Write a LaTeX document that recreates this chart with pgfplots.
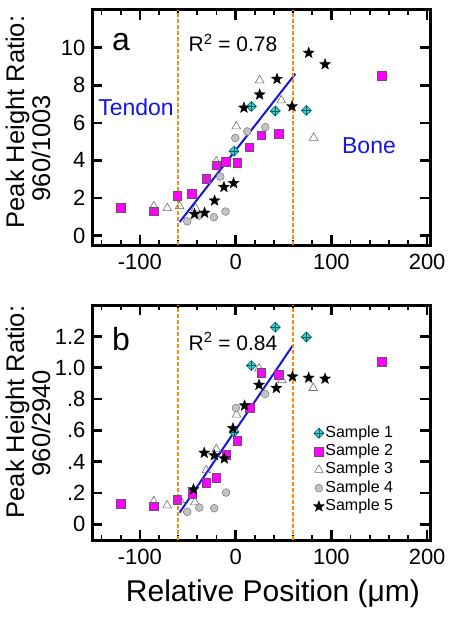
\documentclass[border=0pt]{standalone}
\usepackage{fontspec}
\setmainfont{Liberation Sans}
\usepackage{pgfplots}
\pgfplotsset{compat=1.18}
\usetikzlibrary{plotmarks}

\definecolor{cyanM}{RGB}{64,208,208}
\definecolor{cyanE}{RGB}{0,95,100}
\definecolor{magM}{RGB}{255,0,255}
\definecolor{magE}{RGB}{120,70,120}
\definecolor{grayM}{RGB}{195,195,195}
\definecolor{grayE}{RGB}{120,120,120}
\definecolor{triE}{RGB}{110,110,110}
\definecolor{orangeL}{RGB}{245,140,20}
\definecolor{blueL}{RGB}{20,20,230}

\pgfdeclareplotmark{diamplus}{%
  \pgfpathmoveto{\pgfqpoint{0pt}{\pgfplotmarksize}}%
  \pgfpathlineto{\pgfqpoint{\pgfplotmarksize}{0pt}}%
  \pgfpathlineto{\pgfqpoint{0pt}{-\pgfplotmarksize}}%
  \pgfpathlineto{\pgfqpoint{-\pgfplotmarksize}{0pt}}%
  \pgfpathclose\pgfusepathqfillstroke
  \pgfpathmoveto{\pgfqpoint{0pt}{\pgfplotmarksize}}%
  \pgfpathlineto{\pgfqpoint{0pt}{-\pgfplotmarksize}}%
  \pgfpathmoveto{\pgfqpoint{\pgfplotmarksize}{0pt}}%
  \pgfpathlineto{\pgfqpoint{-\pgfplotmarksize}{0pt}}%
  \pgfusepathqstroke}

\pgfdeclareplotmark{fstar}{%
  \pgfpathmoveto{\pgfpointpolar{90}{\pgfplotmarksize}}%
  \pgfpathlineto{\pgfpointpolar{126}{0.42*\pgfplotmarksize}}%
  \pgfpathlineto{\pgfpointpolar{162}{\pgfplotmarksize}}%
  \pgfpathlineto{\pgfpointpolar{198}{0.42*\pgfplotmarksize}}%
  \pgfpathlineto{\pgfpointpolar{234}{\pgfplotmarksize}}%
  \pgfpathlineto{\pgfpointpolar{270}{0.42*\pgfplotmarksize}}%
  \pgfpathlineto{\pgfpointpolar{306}{\pgfplotmarksize}}%
  \pgfpathlineto{\pgfpointpolar{342}{0.42*\pgfplotmarksize}}%
  \pgfpathlineto{\pgfpointpolar{18}{\pgfplotmarksize}}%
  \pgfpathlineto{\pgfpointpolar{54}{0.42*\pgfplotmarksize}}%
  \pgfpathclose\pgfusepathqfillstroke}

\pgfplotsset{
  myaxis/.style={
    scale only axis, width=338pt, height=235pt,
    xmin=-150, xmax=203,
    axis line style={line width=3pt},
    every major tick/.style={line width=2.6pt, black},
    every minor tick/.style={line width=1.8pt, black},
    tick align=inside,
    major tick length=10pt, minor tick length=5pt,
    xtick={-100,0,100,200}, xticklabels={-100,0,100,200},
    minor xtick={-140,-120,-80,-60,-40,-20,20,40,60,80,120,140,160,180},
    xtick pos=both, ytick pos=both,
    xticklabel pos=left, yticklabel pos=left,
    tick label style={font=\fontsize{22}{24}\selectfont},
    xticklabel style={yshift=-5.5pt},
    yticklabel style={xshift=-3pt},
    /pgf/number format/assume math mode=true,
    clip=false,
  },
  s1/.style={only marks, mark=diamplus, mark size=5pt, mark options={fill=cyanM, draw=cyanE, line width=0.6pt}},
  s2/.style={only marks, mark=square*, mark size=4.3pt, mark options={fill=magM, draw=magE, line width=0.5pt}},
  s3/.style={only marks, mark=triangle, mark size=5pt, mark options={draw=triE, fill=white, line width=0.6pt}},
  s4/.style={only marks, mark=*, mark size=3.9pt, mark options={fill=grayM, draw=grayE, line width=0.5pt}},
  s5/.style={only marks, mark=fstar, mark size=5.8pt, mark options={fill=black, draw=black, line width=0.3pt}},
  fitl/.style={blueL, line width=2pt, no marks},
  vdash/.style={orangeL, line width=1.4pt, dash pattern=on 4pt off 2pt, no marks},
}

\begin{document}
\begin{tikzpicture}
\useasboundingbox (0,0) rectangle (449pt,-621pt);

% ---------------- panel a ----------------
\begin{axis}[myaxis, at={(92pt,-245pt)}, anchor=south west,
  ymin=-0.5, ymax=12, ytick={0,2,4,6,8,10}, yticklabels={0,2,4,6,8,10}]
\addplot[s1] coordinates {(16.4,6.87) (41.5,6.63) (73.9,6.66) (-1.7,4.49)};
\addplot[s2] coordinates {(-120.2,1.47) (-85.4,1.30) (-61,2.13) (-45.7,2.22) (-30.7,3.02) (-20.2,3.75) (-10.5,3.94) (1.7,3.89) (14.3,4.71) (26.8,5.33) (45.3,5.42) (152.3,8.51)};
\addplot[s3] coordinates {(-85.4,1.56) (-71.4,1.46) (-58.5,1.56) (-41.8,1.45) (-30.7,2.93) (-20.2,3.94) (0.7,5.81) (25.1,8.26) (47.7,7.19) (81.5,5.2)};
\addplot[s4] coordinates {(-50.5,0.76) (-38.3,1.07) (-22.7,0.98) (-10.5,1.28) (-16,3.14) (-0.3,5.19) (12.2,5.54) (31,5.77)};
\addplot[s5] coordinates {(-42.9,1.15) (-32.4,1.21) (-22,1.86) (-12.2,2.58) (-2.1,2.79) (8.7,6.80) (25.1,7.50) (43.2,8.33) (58.9,6.87) (76.3,9.72) (93.4,9.11)};
\addplot[fitl] coordinates {(-58.5,0.72) (62.4,8.61)};
\addplot[vdash] coordinates {(-60,-0.5) (-60,12)};
\addplot[vdash] coordinates {(60,-0.5) (60,12)};
\end{axis}

% ---------------- panel b ----------------
\begin{axis}[myaxis, at={(92pt,-540pt)}, anchor=south west,
  ymin=-0.1, ymax=1.4, ytick={0,0.2,0.4,0.6,0.8,1.0,1.2}, yticklabels={0,.2,.4,.6,.8,1.0,1.2},
  legend style={at={(axis cs:81,0.64)}, anchor=north west, draw=none, fill=none,
    font=\fontsize{16}{18}\selectfont, row sep=0.3pt, inner sep=0pt,
    nodes={inner sep=1pt, text height=12pt, text depth=4pt}},
  legend cell align=left,
  legend image code/.code={\draw[#1] plot coordinates {(0pt,0pt)};}]
\addplot[s1] coordinates {(41.5,1.259) (73.9,1.196) (16.4,1.013) (-1.7,0.59)};
\addlegendentry{Sample 1}
\addplot[s2] coordinates {(-120.2,0.132) (-85.7,0.115) (-61,0.157) (-45.3,0.194) (-30.7,0.267) (-20.2,0.299) (-9.8,0.445) (1.7,0.532) (14.6,0.745) (26.8,0.967) (45.3,0.954) (152.3,1.038)};
\addlegendentry{Sample 2}
\addplot[s3] coordinates {(-85.5,0.147) (-71.6,0.121) (-58,0.155) (-42.5,0.14) (-30.6,0.345) (-20.2,0.48) (1,0.70) (24.4,0.995) (48.4,0.92) (81,0.87)};
\addlegendentry{Sample 3}
\addplot[s4] coordinates {(-50.5,0.08) (-38,0.107) (-22.3,0.103) (-10,0.203) (0.3,0.743) (30.8,0.832)};
\addlegendentry{Sample 4}
\addplot[s5] coordinates {(-44,0.223) (-32.8,0.456) (-22.3,0.44) (-11.8,0.42) (-2.8,0.613) (9.4,0.758) (24.4,0.89) (42.5,0.87) (59.4,0.943) (76.3,0.935) (93.4,0.929)};
\addlegendentry{Sample 5}
\addplot[fitl, forget plot] coordinates {(-58.5,0.075) (59.5,1.14)};
\addplot[vdash, forget plot] coordinates {(-60,-0.1) (-60,1.4)};
\addplot[vdash, forget plot] coordinates {(60,-0.1) (60,1.4)};
\end{axis}

% ---------------- texts ----------------
\node[anchor=base, font=\fontsize{32}{34}\selectfont, inner sep=0pt] at (121pt,-50pt) {a};
\node[anchor=base, font=\fontsize{21}{23}\selectfont, inner sep=0pt] at (233pt,-51.7pt) {R\textsuperscript{2} = 0.78};
\node[anchor=base, font=\fontsize{23}{25}\selectfont, inner sep=0pt, text=blueL] at (136pt,-115pt) {Tendon};
\node[anchor=base, font=\fontsize{23}{25}\selectfont, inner sep=0pt, text=blueL] at (369pt,-153pt) {Bone};
\node[anchor=base, font=\fontsize{32}{34}\selectfont, inner sep=0pt] at (121pt,-350pt) {b};
\node[anchor=base, font=\fontsize{21}{23}\selectfont, inner sep=0pt] at (233pt,-350pt) {R\textsuperscript{2} = 0.84};

\node[rotate=90, anchor=base, font=\fontsize{25.5}{27}\selectfont, inner sep=0pt] at (24pt,-122pt) {Peak Height Ratio:};
\node[rotate=90, anchor=base, font=\fontsize{25.5}{27}\selectfont, inner sep=0pt] at (50pt,-148pt) {960/1003};
\node[rotate=90, anchor=base, font=\fontsize{25.5}{27}\selectfont, inner sep=0pt] at (24pt,-412pt) {Peak Height Ratio:};
\node[rotate=90, anchor=base, font=\fontsize{25.5}{27}\selectfont, inner sep=0pt] at (50pt,-423pt) {960/2940};

\node[anchor=base, font=\fontsize{30}{32}\selectfont, inner sep=0pt] at (273pt,-601.7pt) {Relative Position (μm)};
\end{tikzpicture}
\end{document}
